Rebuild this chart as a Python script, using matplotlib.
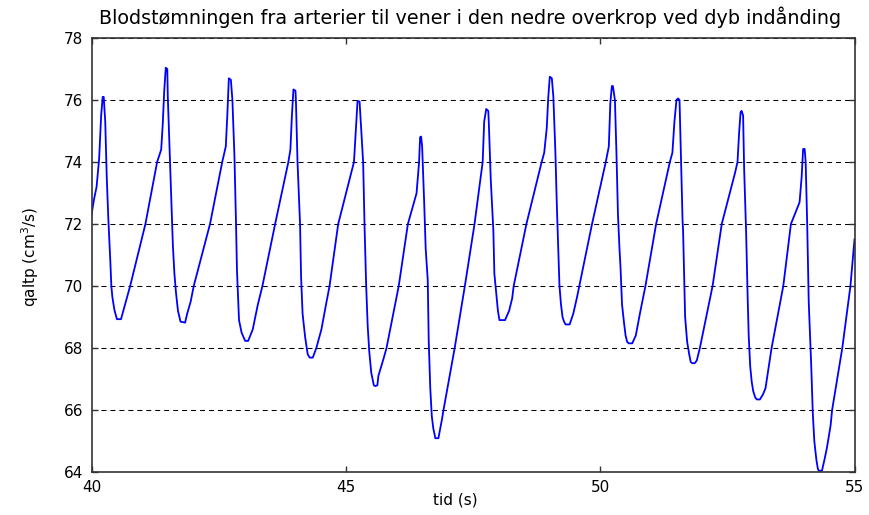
import matplotlib
matplotlib.use("Agg")
import matplotlib.pyplot as plt

# ---- data (time in s, flow in cm^3/s) ----
t = [40.00, 40.05, 40.10, 40.15, 40.19, 40.22, 40.24, 40.27, 40.30, 40.33, 40.37, 40.39,
     40.41, 40.45, 40.50, 40.58, 40.63, 40.70, 40.76,
     41.06, 41.29, 41.37, 41.40, 41.43, 41.46, 41.49, 41.50, 41.54, 41.58, 41.60, 41.63,
     41.66, 41.70, 41.75, 41.84, 41.88, 41.95, 42.01,
     42.33, 42.57, 42.64, 42.67, 42.70, 42.74, 42.77, 42.81, 42.84, 42.86, 42.90, 42.95,
     43.02, 43.08, 43.17, 43.27, 43.36,
     43.61, 43.87, 43.91, 43.94, 43.97, 44.01, 44.02, 44.05, 44.10, 44.12, 44.15, 44.20,
     44.25, 44.29, 44.35, 44.42, 44.52, 44.61, 44.68,
     44.85, 45.16, 45.20, 45.23, 45.27, 45.34, 45.37, 45.40, 45.43, 45.46, 45.50, 45.55,
     45.58, 45.62, 45.64, 45.74, 45.80, 46.04,
     46.22, 46.39, 46.44, 46.46, 46.48, 46.50, 46.54, 46.57, 46.61, 46.63, 46.66, 46.69,
     46.72, 46.76, 46.82, 46.89, 46.92, 47.14, 47.34,
     47.53, 47.61, 47.69, 47.72, 47.76, 47.80, 47.81, 47.85, 47.90, 47.92, 47.96, 47.99,
     48.02, 48.13, 48.21, 48.27, 48.30,
     48.55, 48.85, 48.90, 48.95, 48.98, 49.01, 49.05, 49.08, 49.12, 49.15, 49.18, 49.20,
     49.23, 49.26, 49.29, 49.32, 49.40, 49.47, 49.54, 49.59,
     49.84, 50.11, 50.17, 50.20, 50.23, 50.25, 50.29, 50.32, 50.35, 50.38, 50.40, 50.43,
     50.47, 50.50, 50.53, 50.56, 50.63, 50.70, 50.78, 50.84, 50.89,
     51.10, 51.37, 51.42, 51.46, 51.50, 51.53, 51.56, 51.59, 51.62, 51.63, 51.67, 51.71,
     51.75, 51.78, 51.81, 51.86, 51.90, 51.96, 52.21,
     52.39, 52.65, 52.70, 52.73, 52.76, 52.78, 52.81, 52.83, 52.87, 52.90, 52.92, 52.95,
     52.98, 53.01, 53.05, 53.08, 53.14, 53.20, 53.25, 53.37, 53.60,
     53.75, 53.92, 53.96, 53.99, 54.02, 54.04, 54.07, 54.10, 54.15, 54.18, 54.21, 54.25,
     54.28, 54.30, 54.36, 54.41, 54.46, 54.53, 54.56, 54.76, 54.92, 55.00]
q = [72.3, 72.8, 73.2, 74.1, 75.5, 76.1, 76.1, 75.3, 73.5, 72.2, 70.8, 70.0,
     69.65, 69.23, 68.93, 68.93, 69.23, 69.65, 70.0,
     72.0, 74.0, 74.4, 75.2, 76.3, 77.04, 77.0, 76.1, 74.2, 72.2, 71.3, 70.4,
     69.8, 69.2, 68.85, 68.82, 69.1, 69.5, 70.0,
     72.0, 74.0, 74.5, 75.5, 76.7, 76.65, 76.0, 74.2, 72.1, 70.5, 68.9, 68.5,
     68.23, 68.23, 68.6, 69.4, 70.0,
     72.0, 74.0, 74.4, 75.5, 76.34, 76.3, 75.9, 74.0, 72.0, 70.3, 69.1, 68.35,
     67.8, 67.69, 67.69, 68.0, 68.6, 69.4, 70.0,
     72.0, 74.0, 75.1, 75.97, 75.95, 74.0, 71.8, 70.0, 68.7, 67.9, 67.2, 66.8,
     66.77, 66.8, 67.1, 67.65, 68.0, 70.0,
     72.0, 72.99, 74.0, 74.8, 74.82, 74.5, 72.7, 71.2, 70.2, 68.2, 66.7, 65.8,
     65.4, 65.09, 65.09, 65.7, 66.0, 68.0, 70.0,
     72.0, 72.99, 74.0, 75.3, 75.71, 75.65, 75.3, 73.4, 71.8, 70.4, 69.7, 69.2,
     68.9, 68.9, 69.2, 69.6, 70.0,
     72.0, 74.0, 74.3, 75.1, 76.1, 76.75, 76.7, 76.1, 74.3, 72.5, 71.0, 70.0,
     69.4, 69.0, 68.85, 68.76, 68.76, 69.1, 69.6, 70.0,
     72.0, 74.0, 74.5, 75.9, 76.45, 76.45, 76.0, 74.3, 72.3, 71.2, 70.6, 69.4,
     68.8, 68.4, 68.2, 68.15, 68.15, 68.4, 69.1, 69.6, 70.0,
     72.0, 74.0, 74.3, 75.3, 76.0, 76.05, 76.0, 74.0, 72.1, 71.8, 69.0, 68.2,
     67.8, 67.55, 67.51, 67.51, 67.6, 68.0, 70.0,
     72.0, 73.64, 74.0, 74.9, 75.6, 75.65, 75.5, 73.8, 71.7, 69.6, 68.4, 67.4,
     66.9, 66.6, 66.4, 66.34, 66.34, 66.5, 66.7, 68.0, 70.0,
     72.0, 72.7, 73.5, 74.42, 74.42, 74.0, 72.0, 69.5, 67.4, 65.9, 65.0, 64.4,
     64.1, 64.04, 64.04, 64.4, 64.8, 65.5, 66.0, 68.0, 70.0, 71.5]

title_text = "Blodstømningen fra arterier til vener i den nedre overkrop ved dyb indånding"
xlabel_text = "tid (s)"
ylabel_text = "qaltp (cm$^3$/s)"
xticks = [40, 45, 50, 55]
yticks = [64, 66, 68, 70, 72, 74, 76, 78]

plt.rcParams['font.family'] = ['DejaVu Sans']
plt.rcParams['mathtext.fontset'] = 'dejavusans'

fig = plt.figure(figsize=(8.69, 5.15), dpi=100)
ax = fig.add_axes([91.5/869, 1-472/515, 763/869, 434/515])

ax.plot(t, q, color='#0000ff', linewidth=1.3)

ax.set_xlim(40, 55)
ax.set_ylim(64, 78)
ax.set_xticks(xticks)
ax.set_yticks(yticks)
ax.yaxis.grid(True, color='black', linestyle=(0, (4.8, 3.8)), linewidth=0.75)
ax.xaxis.grid(False)

for s in ax.spines.values():
    s.set_color('#333333')
    s.set_linewidth(1.2)

ax.tick_params(axis='both', direction='in', length=4, width=1, color='#333333',
               top=True, right=True, labelsize=11, pad=6)

ax.set_xlabel(xlabel_text, fontsize=11)
ax.xaxis.set_label_coords((455-91.5)/763, (472-500)/434)
ax.set_ylabel(ylabel_text, fontsize=11)
ax.yaxis.set_label_coords((30-91.5)/763, (472-257)/434)
ax.xaxis.label.set_va('center')
ax.yaxis.label.set_va('center')

fig.text(470/869, 1-17/515, title_text, ha='center', va='center', fontsize=13.8)

fig.savefig('out.png', dpi=100)
